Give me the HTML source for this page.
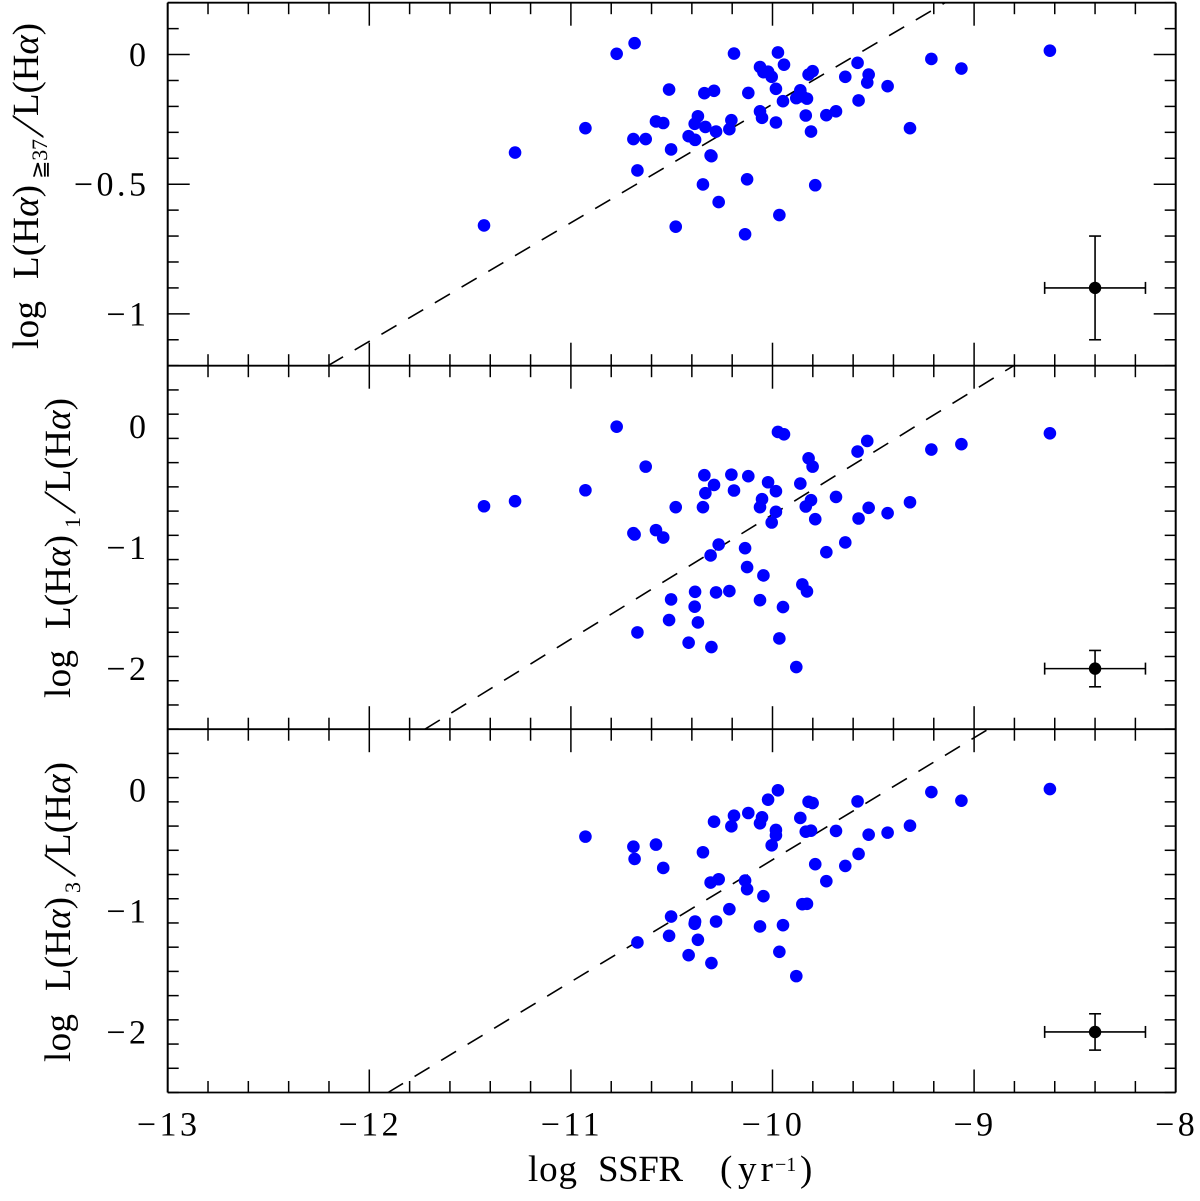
<!DOCTYPE html>
<html lang="en">
<head>
<meta charset="utf-8">
<title>Halpha luminosity fractions versus SSFR</title>
<style>
html,body{margin:0;padding:0;background:#fff;width:1200px;height:1201px;overflow:hidden}
svg{display:block}
text{font-family:"Liberation Serif","DejaVu Serif",serif;fill:#000;text-rendering:geometricPrecision}
</style>
</head>
<body>
<svg id="chart" xmlns="http://www.w3.org/2000/svg" width="1200" height="1201" viewBox="0 0 1200 1201">
  <g id="axes" stroke="#000" fill="none" stroke-width="1.6"></g>
  <g id="fits" stroke="#000" fill="none" stroke-width="1.6"></g>
  <g id="points" fill="#0000ff"></g>
  <g id="errors" stroke="#000" fill="none" stroke-width="1.6"></g>
  <g id="labels" font-size="34"></g>

  <g font-size="37">
    <text x="528" y="1181" textLength="49">log</text>
    <text x="598" y="1181" textLength="85">SSFR</text>
    <text x="720" y="1181">(</text>
    <text x="738" y="1181" textLength="35">yr</text>
    <text x="775" y="1171" font-size="20">−1</text>
    <text x="800" y="1181">)</text>
  </g>

  <g font-size="37">
    <text transform="translate(38,349) rotate(-90)" textLength="48">log</text>
    <text transform="translate(38,279) rotate(-90)" textLength="94">L(H<tspan font-style="italic">α</tspan>)</text>
    <text transform="translate(47,179) rotate(-90)" font-size="22" textLength="40">≧37</text>
    <text transform="translate(43,138) rotate(-90) skewX(-19)" font-size="46">/</text>
    <text transform="translate(38,116) rotate(-90)" textLength="93">L(H<tspan font-style="italic">α</tspan>)</text>
  </g>
  <g font-size="37">
    <text transform="translate(70,698) rotate(-90)" textLength="48">log</text>
    <text transform="translate(70,629) rotate(-90)" textLength="94">L(H<tspan font-style="italic">α</tspan>)</text>
    <text transform="translate(80,528) rotate(-90)" font-size="22">1</text>
    <text transform="translate(75,514) rotate(-90) skewX(-19)" font-size="46">/</text>
    <text transform="translate(70,492) rotate(-90)" textLength="94">L(H<tspan font-style="italic">α</tspan>)</text>
  </g>
  <g font-size="37">
    <text transform="translate(70,1062) rotate(-90)" textLength="48">log</text>
    <text transform="translate(70,991) rotate(-90)" textLength="94">L(H<tspan font-style="italic">α</tspan>)</text>
    <text transform="translate(80,893) rotate(-90)" font-size="22">3</text>
    <text transform="translate(75,877) rotate(-90) skewX(-19)" font-size="46">/</text>
    <text transform="translate(70,856) rotate(-90)" textLength="94">L(H<tspan font-style="italic">α</tspan>)</text>
  </g>
</svg>
<script>
// ---- data ----
const ssfr = [-11.431,-11.277,-10.928,-10.773,-10.690,-10.684,-10.670,-10.629,-10.578,-10.542,-10.513,-10.503,-10.480,-10.416,-10.384,-10.386,-10.370,-10.345,-10.333,-10.338,-10.290,-10.307,-10.303,-10.267,-10.280,-10.214,-10.204,-10.191,-10.136,-10.126,-10.120,-10.062,-10.062,-10.052,-10.045,-10.022,-10.004,-9.983,-9.983,-9.973,-9.943,-9.948,-9.966,-9.882,-9.862,-9.852,-9.829,-9.835,-9.809,-9.788,-9.821,-9.801,-9.733,-9.685,-9.639,-9.578,-9.573,-9.530,-9.523,-9.429,-9.318,-9.212,-9.063,-8.624];
const fracAbove37 = [-0.659,-0.378,-0.284,0.003,-0.326,0.044,-0.447,-0.326,-0.258,-0.264,-0.135,-0.366,-0.664,-0.315,-0.329,-0.267,-0.238,-0.501,-0.279,-0.149,-0.140,-0.389,-0.392,-0.569,-0.297,-0.288,-0.253,0.004,-0.693,-0.481,-0.148,-0.219,-0.048,-0.244,-0.068,-0.066,-0.086,-0.132,-0.262,0.008,-0.039,-0.180,-0.619,-0.168,-0.138,-0.161,-0.170,-0.235,-0.297,-0.504,-0.077,-0.064,-0.234,-0.219,-0.086,-0.032,-0.177,-0.108,-0.077,-0.122,-0.284,-0.017,-0.054,0.015];
const frac1 = [-0.660,-0.618,-0.528,-0.003,-0.882,-0.893,-1.701,-0.333,-0.857,-0.918,-1.599,-1.429,-0.668,-1.786,-1.366,-1.489,-1.619,-0.668,-0.552,-0.404,-0.484,-1.066,-1.822,-0.976,-1.371,-1.360,-0.399,-0.530,-1.006,-1.162,-0.412,-1.435,-0.668,-0.602,-1.231,-0.462,-0.794,-0.536,-0.706,-0.047,-0.066,-1.492,-1.751,-1.987,-0.473,-1.305,-1.363,-0.662,-0.610,-0.767,-0.264,-0.333,-1.039,-0.583,-0.959,-0.209,-0.761,-0.121,-0.673,-0.717,-0.627,-0.192,-0.148,-0.058];
const frac3 = [null,null,-0.387,null,-0.470,-0.571,-1.261,null,-0.453,-0.646,-1.206,-1.047,null,-1.366,-1.088,-1.107,-1.239,-0.516,null,null,-0.264,-0.766,-1.431,-0.739,-1.088,-0.986,-0.302,-0.214,-0.750,-0.821,-0.192,-1.129,-0.277,-0.228,-0.879,-0.082,-0.459,-0.332,-0.376,-0.005,null,-1.118,-1.338,-1.539,-0.233,-0.945,-0.942,-0.346,-0.338,-0.615,-0.099,-0.110,-0.755,-0.340,-0.629,-0.096,-0.530,null,-0.371,-0.354,-0.297,-0.019,-0.090,0.006];

const xTickValues = [-13,-12,-11,-10,-9,-8];
const yTicksTop = [0,-0.5,-1];
const yTicksLower = [0,-1,-2];
const yTickLabelsTop = ['0','−0.5','−1'];
const yTickLabelsLower = ['0','−1','−2'];
const xTickLabels = ['−13','−12','−11','−10','−9','−8'];

const fitTopX = [-12.205,-9.144];
const fitTopY = [-1.2,0.2];
const fitMiddleX = [-11.724,-8.804];
const fitMiddleY = [-2.5,0.5];
const fitBottomX = [-11.907,-8.93];
const fitBottomY = [-2.5,0.5];

const errorX = [-8.4];
const errorXSize = [0.25];
const errorTopY = [-0.9];
const errorTopSize = [0.2];
const errorMiddleY = [-2];
const errorMiddleSize = [0.15];
const errorBottomY = [-2];
const errorBottomSize = [0.15];

// ---- axis functions ----
const SVGNS = 'http://www.w3.org/2000/svg';
const plotLeft = 167.7, plotRight = 1175.7;
const x = v => plotLeft + (v + 13) * (plotRight - plotLeft) / 5;
const linear = (d0, d1, r0, r1) => v => r0 + (v - d0) * (r1 - r0) / (d1 - d0);
const yTop = linear(0.2, -1.2, 2.7, 365.7);
const yMiddle = linear(0.5, -2.5, 365.7, 729.2);
const yBottom = linear(0.5, -2.5, 729.2, 1092.5);

const panels = [
  {name:'top', y:yTop, hi:0.2, lo:-1.2, minor:0.1, major:0.5, series:fracAbove37, fx:fitTopX, fy:fitTopY, ey:errorTopY, es:errorTopSize, tv:yTicksTop, tl:yTickLabelsTop},
  {name:'middle', y:yMiddle, hi:0.5, lo:-2.5, minor:0.2, major:1, series:frac1, fx:fitMiddleX, fy:fitMiddleY, ey:errorMiddleY, es:errorMiddleSize, tv:yTicksLower, tl:yTickLabelsLower},
  {name:'bottom', y:yBottom, hi:0.5, lo:-2.5, minor:0.2, major:1, series:frac3, fx:fitBottomX, fy:fitBottomY, ey:errorBottomY, es:errorBottomSize, tv:yTicksLower, tl:yTickLabelsLower}
];

const axes = document.getElementById('axes');
const fits = document.getElementById('fits');
const pts = document.getElementById('points');
const errs = document.getElementById('errors');
const labels = document.getElementById('labels');

function line(parent, x1, y1, x2, y2) {
  const el = document.createElementNS(SVGNS, 'line');
  el.setAttribute('x1', x1);
  el.setAttribute('y1', y1);
  el.setAttribute('x2', x2);
  el.setAttribute('y2', y2);
  parent.appendChild(el);
  return el;
}

const hRules = [2.7, 365.7, 729.2, 1092.5];
hRules.forEach(function (ry) {
  const rule = line(axes, plotLeft, ry, plotRight, ry);
  
  
  rule.setAttribute('stroke-width', '1.8');
});
[plotLeft, plotRight].forEach(function (rx) {
  const rule = line(axes, rx, 2.7, rx, 1092.5);
  
  
  rule.setAttribute('stroke-width', '2');
});

// x ticks on all horizontal rules
for (let i = 0; i <= 25; i++) {
  const v = -13 + i * 0.2;
  const isMajor = i % 5 === 0;
  const len = isMajor ? 23 : 11.5;
  hRules.forEach(function (ry, r) {
    const up = r > 0 ? len : 0;
    const down = r < 3 ? len : 0;
    const tick = line(axes, x(v), ry - up, x(v), ry + down);
    
    
    tick.setAttribute('stroke-width', '1.5');
  });
}

panels.forEach(function (p) {
  // y ticks, both sides
  const steps = Math.round((p.hi - p.lo) / p.minor);
  for (let i = 0; i <= steps; i++) {
    const v = p.lo + i * p.minor;
    const m = v / p.major;
    const isMajor = Math.abs(m - Math.round(m)) < 1e-6;
    const len = isMajor ? 22 : 11;
    const tickL = line(axes, plotLeft, p.y(v), plotLeft + len, p.y(v));
    
    
    tickL.setAttribute('stroke-width', '1.5');
    const tickR = line(axes, plotRight - len, p.y(v), plotRight, p.y(v));
    
    
    tickR.setAttribute('stroke-width', '1.5');
  }

  // y tick labels
  p.tv.forEach(function (v, i) {
    const t = document.createElementNS(SVGNS, 'text');
    t.setAttribute('x', 149.5);
    t.setAttribute('y', p.y(v) + 11.5);
    t.setAttribute('text-anchor', 'end');
    t.setAttribute('letter-spacing', '3.5');
    
    
    t.textContent = p.tl[i];
    labels.appendChild(t);
  });

  // dashed fit
  const fit = line(fits, x(p.fx[0]), p.y(p.fy[0]), x(p.fx[1]), p.y(p.fy[1]));
  fit.setAttribute('stroke-dasharray', '17.5 13.5');
  
  

  // points
  ssfr.forEach(function (sx, i) {
    const val = p.series[i];
    if (val === null || val === undefined) return;
    const c = document.createElementNS(SVGNS, 'circle');
    c.setAttribute('cx', x(sx));
    c.setAttribute('cy', p.y(val));
    c.setAttribute('r', 6.3);
    
    
    pts.appendChild(c);
  });

  // representative error bar
  errorX.forEach(function (ex, i) {
    const cy = p.y(p.ey[i]);
    const x0 = x(ex - errorXSize[i]);
    const x1 = x(ex + errorXSize[i]);
    const y0 = p.y(p.ey[i] + p.es[i]);
    const y1 = p.y(p.ey[i] - p.es[i]);
    const g = document.createElementNS(SVGNS, 'g');
    
    
    errs.appendChild(g);
    line(g, x0, cy, x1, cy);
    line(g, x0, cy - 6, x0, cy + 6);
    line(g, x1, cy - 6, x1, cy + 6);
    line(g, x(ex), y0, x(ex), y1);
    line(g, x(ex) - 6, y0, x(ex) + 6, y0);
    line(g, x(ex) - 6, y1, x(ex) + 6, y1);
    const dot = document.createElementNS(SVGNS, 'circle');
    dot.setAttribute('cx', x(ex));
    dot.setAttribute('cy', cy);
    dot.setAttribute('r', 6.2);
    dot.setAttribute('fill', '#000');
    dot.setAttribute('stroke', 'none');
    
    
    g.appendChild(dot);
  });
});

// x tick labels
xTickValues.forEach(function (v, i) {
  const t = document.createElementNS(SVGNS, 'text');
  t.setAttribute('x', x(v) + 1);
  t.setAttribute('y', 1135.5);
  t.setAttribute('text-anchor', 'middle');
  t.setAttribute('letter-spacing', '3.5');
  
  
  t.textContent = xTickLabels[i];
  labels.appendChild(t);
});
</script>
</body>
</html>
